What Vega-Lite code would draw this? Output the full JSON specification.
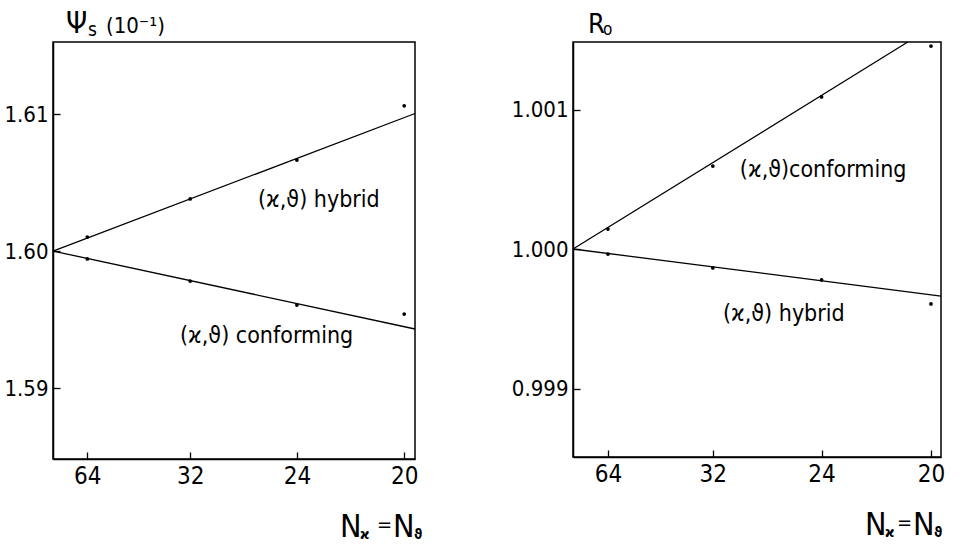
{
  "$schema": "https://vega.github.io/schema/vega-lite/v6.json",
  "background": "white",
  "padding": {"left": 3, "top": 8, "right": 0, "bottom": 0},
  "bounds": "flush",
  "spacing": 158,
  "config": {
    "view": {"stroke": "black", "strokeWidth": 1.5},
    "axis": {"grid": false, "domainColor": "black", "domainWidth": 1.5, "tickColor": "black", "tickSize": -7, "tickWidth": 1.3, "labelFont": "Liberation Sans Narrow, DejaVu Sans Condensed, DejaVu Sans", "labelColor": "black"},
    "text": {"font": "Liberation Sans Narrow, DejaVu Sans Condensed, DejaVu Sans", "color": "black"}
  },
  "datasets": {
    "psi_lines": [
      {"scheme": "hybrid", "h": 0, "v": 1.6},
      {"scheme": "hybrid", "h": 0.002577, "v": 1.61004},
      {"scheme": "conforming", "h": 0, "v": 1.6},
      {"scheme": "conforming", "h": 0.002577, "v": 1.59431}
    ],
    "psi_points": [
      {"scheme": "hybrid", "N": 64, "h": 0.00024414, "v": 1.60102},
      {"scheme": "hybrid", "N": 32, "h": 0.00097656, "v": 1.6038},
      {"scheme": "hybrid", "N": 24, "h": 0.00173611, "v": 1.60664},
      {"scheme": "hybrid", "N": 20, "h": 0.0025, "v": 1.6106},
      {"scheme": "conforming", "N": 64, "h": 0.00024414, "v": 1.59942},
      {"scheme": "conforming", "N": 32, "h": 0.00097656, "v": 1.59781},
      {"scheme": "conforming", "N": 24, "h": 0.00173611, "v": 1.59606},
      {"scheme": "conforming", "N": 20, "h": 0.0025, "v": 1.5954}
    ],
    "psi_text": [
      {"part": "note", "text": "(ϰ,ϑ) hybrid", "h": 0.001459, "v": 1.60372},
      {"part": "note", "text": "(ϰ,ϑ) conforming", "h": 0.000904, "v": 1.5938},
      {"part": "tbig", "text": "Ψ", "h": 0.0000925, "v": 1.61591},
      {"part": "tsub", "text": "s", "h": 0.000249, "v": 1.61569},
      {"part": "tmid", "text": "(10⁻¹)", "h": 0.000377, "v": 1.61591},
      {"part": "xbig", "text": "N", "h": 0.002043, "v": 1.57912},
      {"part": "xbig", "text": "N", "h": 0.00242, "v": 1.57912},
      {"part": "xsub", "text": "ϰ", "h": 0.002185, "v": 1.57898},
      {"part": "xsub", "text": "ϑ", "h": 0.00257, "v": 1.57898},
      {"part": "xeq", "text": "=", "h": 0.002307, "v": 1.58}
    ],
    "r_lines": [
      {"scheme": "conforming", "h": 0, "v": 1.0},
      {"scheme": "conforming", "h": 0.002338, "v": 1.001484},
      {"scheme": "hybrid", "h": 0, "v": 1.0},
      {"scheme": "hybrid", "h": 0.00257, "v": 0.999663}
    ],
    "r_points": [
      {"scheme": "conforming", "N": 64, "h": 0.00024414, "v": 1.000143},
      {"scheme": "conforming", "N": 32, "h": 0.00097656, "v": 1.000595},
      {"scheme": "conforming", "N": 24, "h": 0.00173611, "v": 1.00109},
      {"scheme": "conforming", "N": 20, "h": 0.0025, "v": 1.001455},
      {"scheme": "hybrid", "N": 64, "h": 0.00024414, "v": 0.999964},
      {"scheme": "hybrid", "N": 32, "h": 0.00097656, "v": 0.999864},
      {"scheme": "hybrid", "N": 24, "h": 0.00173611, "v": 0.999778},
      {"scheme": "hybrid", "N": 20, "h": 0.0025, "v": 0.999606}
    ],
    "r_text": [
      {"part": "note", "text": "(ϰ,ϑ)conforming", "h": 0.001165, "v": 1.000566},
      {"part": "note", "text": "(ϰ,ϑ) hybrid", "h": 0.001047, "v": 0.999534},
      {"part": "tbig", "text": "R", "h": 0.000105, "v": 1.001548},
      {"part": "tsub", "text": "o", "h": 0.00021, "v": 1.001534},
      {"part": "xbig", "text": "N", "h": 0.002039, "v": 0.99795},
      {"part": "xbig", "text": "N", "h": 0.002374, "v": 0.99795},
      {"part": "xsub", "text": "ϰ", "h": 0.002179, "v": 0.997935},
      {"part": "xsub", "text": "ϑ", "h": 0.002521, "v": 0.997935},
      {"part": "xeq", "text": "=", "h": 0.002263, "v": 0.998036}
    ]
  },
  "hconcat": [
    {
      "width": 362,
      "height": 417,
      "layer": [
        {
          "data": {"name": "psi_lines"},
          "mark": {"type": "line", "color": "black", "strokeWidth": 1.3},
          "encoding": {
            "x": {"field": "h", "type": "quantitative", "scale": {"domain": [0, 0.002577], "nice": false, "zero": false},
                  "axis": {"title": null, "values": [0.00024414, 0.00097656, 0.00173611, 0.0025], "labelExpr": "round(1/sqrt(datum.value))", "labelFontSize": 24, "labelPadding": 12}},
            "y": {"field": "v", "type": "quantitative", "scale": {"domain": [1.58482, 1.61526], "nice": false, "zero": false},
                  "axis": {"title": null, "values": [1.59, 1.6, 1.61], "format": ".2f", "labelFontSize": 22, "labelPadding": 12}},
            "detail": {"field": "scheme"}
          }
        },
        {
          "data": {"name": "psi_points"},
          "mark": {"type": "point", "filled": true, "color": "black", "size": 14, "opacity": 1},
          "encoding": {
            "x": {"field": "h", "type": "quantitative"},
            "y": {"field": "v", "type": "quantitative"}
          }
        },
        {
          "data": {"name": "psi_text"},
          "transform": [{"filter": "datum.part == 'note'"}],
          "mark": {"type": "text", "align": "left", "baseline": "middle", "fontSize": 23},
          "encoding": {"x": {"field": "h", "type": "quantitative"}, "y": {"field": "v", "type": "quantitative"}, "text": {"field": "text"}}
        },
        {
          "data": {"name": "psi_text"},
          "transform": [{"filter": "datum.part == 'tbig'"}],
          "mark": {"type": "text", "align": "left", "baseline": "alphabetic", "fontSize": 30},
          "encoding": {"x": {"field": "h", "type": "quantitative"}, "y": {"field": "v", "type": "quantitative"}, "text": {"field": "text"}}
        },
        {
          "data": {"name": "psi_text"},
          "transform": [{"filter": "datum.part == 'tsub'"}],
          "mark": {"type": "text", "align": "left", "baseline": "alphabetic", "fontSize": 19},
          "encoding": {"x": {"field": "h", "type": "quantitative"}, "y": {"field": "v", "type": "quantitative"}, "text": {"field": "text"}}
        },
        {
          "data": {"name": "psi_text"},
          "transform": [{"filter": "datum.part == 'tmid'"}],
          "mark": {"type": "text", "align": "left", "baseline": "alphabetic", "fontSize": 22},
          "encoding": {"x": {"field": "h", "type": "quantitative"}, "y": {"field": "v", "type": "quantitative"}, "text": {"field": "text"}}
        },
        {
          "data": {"name": "psi_text"},
          "transform": [{"filter": "datum.part == 'xbig'"}],
          "mark": {"type": "text", "align": "left", "baseline": "alphabetic", "fontSize": 32},
          "encoding": {"x": {"field": "h", "type": "quantitative"}, "y": {"field": "v", "type": "quantitative"}, "text": {"field": "text"}}
        },
        {
          "data": {"name": "psi_text"},
          "transform": [{"filter": "datum.part == 'xsub'"}],
          "mark": {"type": "text", "align": "left", "baseline": "alphabetic", "fontSize": 14, "fontWeight": "bold"},
          "encoding": {"x": {"field": "h", "type": "quantitative"}, "y": {"field": "v", "type": "quantitative"}, "text": {"field": "text"}}
        },
        {
          "data": {"name": "psi_text"},
          "transform": [{"filter": "datum.part == 'xeq'"}],
          "mark": {"type": "text", "align": "left", "baseline": "middle", "fontSize": 20},
          "encoding": {"x": {"field": "h", "type": "quantitative"}, "y": {"field": "v", "type": "quantitative"}, "text": {"field": "text"}}
        }
      ]
    },
    {
      "width": 368,
      "height": 415,
      "layer": [
        {
          "data": {"name": "r_lines"},
          "mark": {"type": "line", "color": "black", "strokeWidth": 1.3},
          "encoding": {
            "x": {"field": "h", "type": "quantitative", "scale": {"domain": [0, 0.00257], "nice": false, "zero": false},
                  "axis": {"title": null, "values": [0.00024414, 0.00097656, 0.00173611, 0.0025], "labelExpr": "round(1/sqrt(datum.value))", "labelFontSize": 24, "labelPadding": 12}},
            "y": {"field": "v", "type": "quantitative", "scale": {"domain": [0.998509, 1.001484], "nice": false, "zero": false},
                  "axis": {"title": null, "values": [0.999, 1.0, 1.001], "format": ".3f", "labelFontSize": 22, "labelPadding": 12}},
            "detail": {"field": "scheme"}
          }
        },
        {
          "data": {"name": "r_points"},
          "mark": {"type": "point", "filled": true, "color": "black", "size": 14, "opacity": 1},
          "encoding": {
            "x": {"field": "h", "type": "quantitative"},
            "y": {"field": "v", "type": "quantitative"}
          }
        },
        {
          "data": {"name": "r_text"},
          "transform": [{"filter": "datum.part == 'note'"}],
          "mark": {"type": "text", "align": "left", "baseline": "middle", "fontSize": 23},
          "encoding": {"x": {"field": "h", "type": "quantitative"}, "y": {"field": "v", "type": "quantitative"}, "text": {"field": "text"}}
        },
        {
          "data": {"name": "r_text"},
          "transform": [{"filter": "datum.part == 'tbig'"}],
          "mark": {"type": "text", "align": "left", "baseline": "alphabetic", "fontSize": 27},
          "encoding": {"x": {"field": "h", "type": "quantitative"}, "y": {"field": "v", "type": "quantitative"}, "text": {"field": "text"}}
        },
        {
          "data": {"name": "r_text"},
          "transform": [{"filter": "datum.part == 'tsub'"}],
          "mark": {"type": "text", "align": "left", "baseline": "alphabetic", "fontSize": 17},
          "encoding": {"x": {"field": "h", "type": "quantitative"}, "y": {"field": "v", "type": "quantitative"}, "text": {"field": "text"}}
        },
        {
          "data": {"name": "r_text"},
          "transform": [{"filter": "datum.part == 'xbig'"}],
          "mark": {"type": "text", "align": "left", "baseline": "alphabetic", "fontSize": 32},
          "encoding": {"x": {"field": "h", "type": "quantitative"}, "y": {"field": "v", "type": "quantitative"}, "text": {"field": "text"}}
        },
        {
          "data": {"name": "r_text"},
          "transform": [{"filter": "datum.part == 'xsub'"}],
          "mark": {"type": "text", "align": "left", "baseline": "alphabetic", "fontSize": 14, "fontWeight": "bold"},
          "encoding": {"x": {"field": "h", "type": "quantitative"}, "y": {"field": "v", "type": "quantitative"}, "text": {"field": "text"}}
        },
        {
          "data": {"name": "r_text"},
          "transform": [{"filter": "datum.part == 'xeq'"}],
          "mark": {"type": "text", "align": "left", "baseline": "middle", "fontSize": 20},
          "encoding": {"x": {"field": "h", "type": "quantitative"}, "y": {"field": "v", "type": "quantitative"}, "text": {"field": "text"}}
        }
      ]
    }
  ],
  "resolve": {"scale": {"x": "independent", "y": "independent"}}
}
